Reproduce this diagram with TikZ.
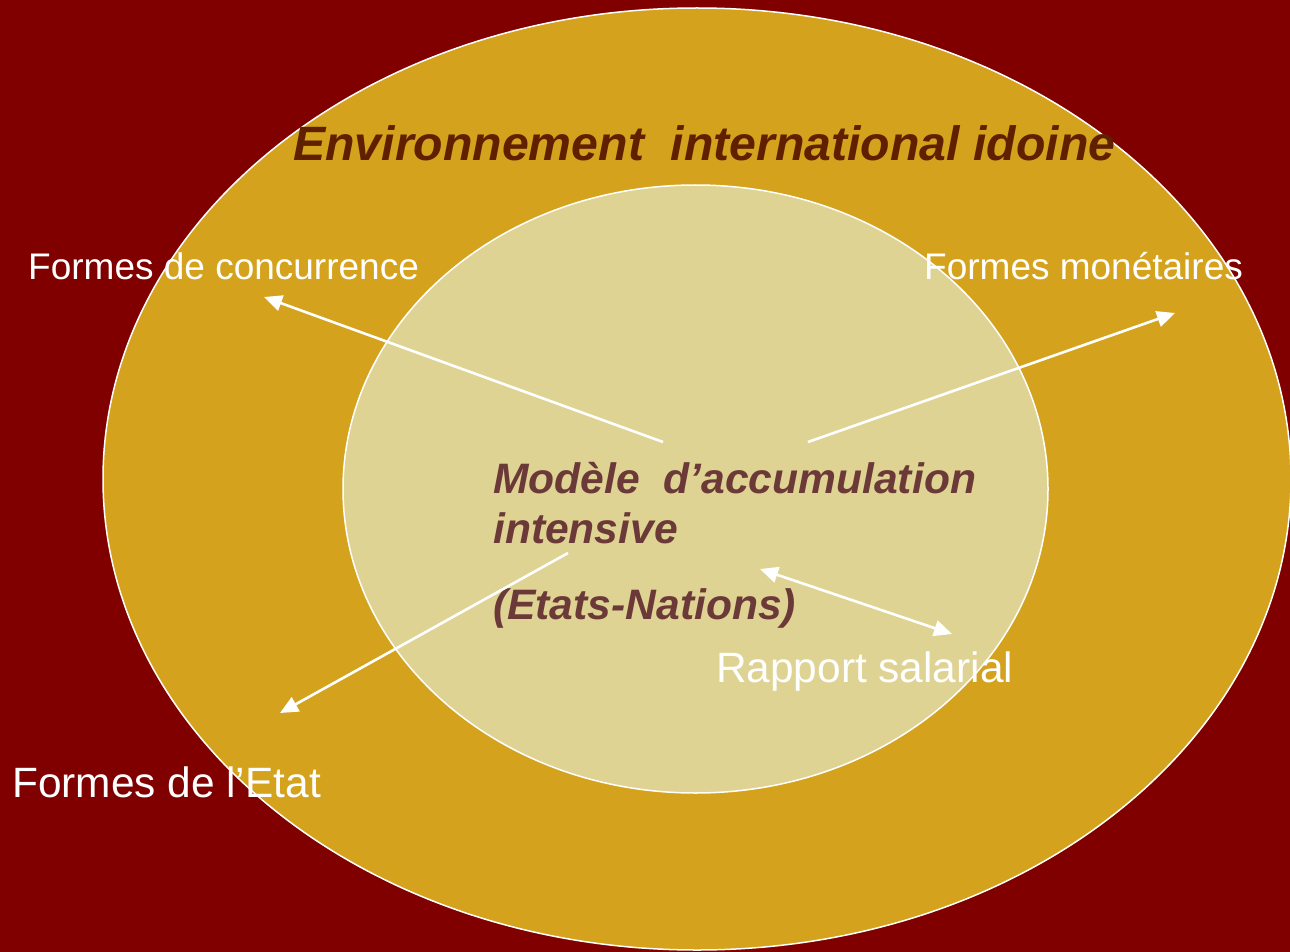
\documentclass[tikz,border=0pt]{standalone}
\usepackage{fontspec}
\setmainfont{Liberation Sans}
\usetikzlibrary{arrows.meta}
\definecolor{bgred}{RGB}{128,0,0}
\definecolor{gold}{RGB}{212,162,28}
\definecolor{pale}{RGB}{223,211,148}
\definecolor{titlebrown}{RGB}{96,32,0}
\definecolor{innerbrown}{RGB}{107,58,56}
\tikzset{
  ring/.style={draw=white, line width=1.5pt},
  conn/.style={draw=white, line width=2.6pt, -{Triangle[length=18pt,width=16pt]}},
  bconn/.style={draw=white, line width=2.6pt, {Triangle[length=18pt,width=16pt]}-{Triangle[length=18pt,width=16pt]}},
  lab/.style={anchor=base west, inner sep=0pt, text=white},
}
\begin{document}
\begin{tikzpicture}[x=1pt,y=-1pt]
\fill[bgred] (0,0) rectangle (1290,952);
\useasboundingbox (0,0) rectangle (1290,952);
\path[ring, fill=gold] (697,479) ellipse [x radius=594, y radius=471];
\path[ring, fill=pale] (695.5,489) ellipse [x radius=352.5, y radius=304];

\node[lab, text=titlebrown, font=\fontsize{48.2}{56}\selectfont\bfseries\itshape] (title) at (293,161) {Environnement\ \ international idoine};

\node[lab, font=\fontsize{37}{44}\selectfont] (conc) at (28,279) {Formes de concurrence};
\node[lab, font=\fontsize{37}{44}\selectfont] (mon) at (924,279) {Formes monétaires};
\node[lab, font=\fontsize{42.4}{50}\selectfont] (etat) at (12,797) {Formes de l’Etat};
\node[lab, font=\fontsize{42.4}{50}\selectfont] (rap) at (716,682) {Rapport salarial};

\node[lab, text=innerbrown, font=\fontsize{42.6}{50}\selectfont\bfseries\itshape] (m1) at (493,493) {Modèle\ \ d’accumulation};
\node[lab, text=innerbrown, font=\fontsize{42.6}{50}\selectfont\bfseries\itshape] (m2) at (493,543) {intensive};
\node[lab, text=innerbrown, font=\fontsize{42.6}{50}\selectfont\bfseries\itshape] (m3) at (493,619) {(Etats-Nations)};

\coordinate (a1s) at (663,442);
\coordinate (a1e) at (264,297);
\coordinate (a2s) at (808,442);
\coordinate (a2e) at (1175,313);
\coordinate (a3s) at (568,553);
\coordinate (a3e) at (280,713);
\coordinate (a4s) at (760,569);
\coordinate (a4e) at (952,634);

\draw[conn] (a1s) -- (a1e);
\draw[conn] (a2s) -- (a2e);
\draw[conn] (a3s) -- (a3e);
\draw[bconn] (a4s) -- (a4e);
\end{tikzpicture}
\end{document}
